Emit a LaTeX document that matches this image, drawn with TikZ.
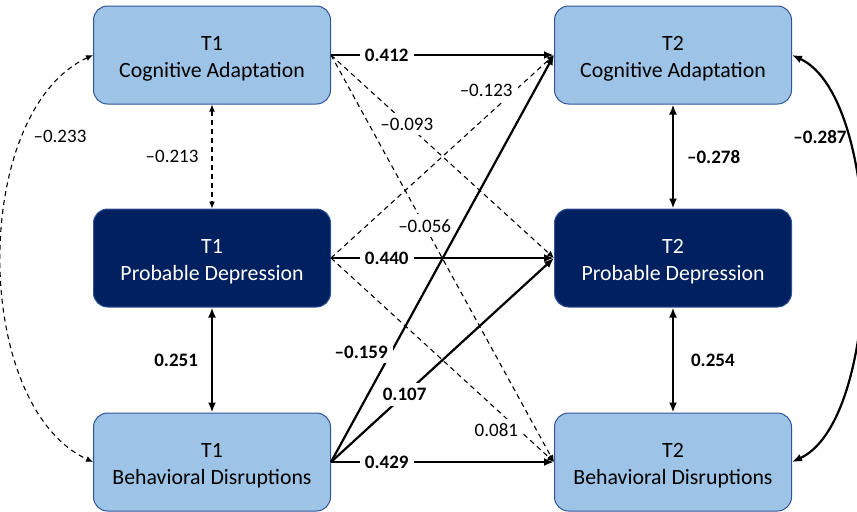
\documentclass[tikz,border=0pt]{standalone}
\usepackage{fontspec}
\setmainfont{Carlito}
\usetikzlibrary{positioning}
\usetikzlibrary{arrows.meta}
\definecolor{boxlight}{HTML}{9DC3E6}
\definecolor{boxdark}{HTML}{002060}
\definecolor{boxline}{HTML}{2F5597}
\newcommand{\varlabel}[2]{\rule{0pt}{11pt}#1\\#2}

\begin{document}
\begin{tikzpicture}[x=0.5pt,y=-0.5pt,
    varbox/.style={rounded corners=7pt, minimum width=118.5pt, minimum height=49pt, align=center, draw=boxline, line width=0.5pt, font=\fontsize{10.9}{13.5}\selectfont},
    lightbox/.style={varbox, fill=boxlight, text=black},
    darkbox/.style={varbox, fill=boxdark, text=white},
    sig/.style={line width=1.1pt, >={Latex[length=5pt,width=4pt]}},
    nsig/.style={line width=0.55pt, dash pattern=on 2.5pt off 2pt, >={Latex[length=3.5pt,width=3pt]}},
    coef/.style={fill=white, inner sep=2.5pt, font=\fontsize{9.5}{11}\selectfont},
    bcoef/.style={coef, font=\fontsize{9.5}{11}\selectfont\bfseries}]
    \useasboundingbox (0,0) rectangle (857,511);

    % T1 and T2 variables
    \node[lightbox] (t1ca) at (212,55) {\varlabel{T1}{Cognitive Adaptation}};
    \node[darkbox] (t1pd) at (212,258) {\varlabel{T1}{Probable Depression}};
    \node[lightbox] (t1bd) at (212,462) {\varlabel{T1}{Behavioral Disruptions}};
    \node[lightbox] (t2ca) at (673,55) {\varlabel{T2}{Cognitive Adaptation}};
    \node[darkbox] (t2pd) at (673,258) {\varlabel{T2}{Probable Depression}};
    \node[lightbox] (t2bd) at (673,462) {\varlabel{T2}{Behavioral Disruptions}};

    % non-significant cross-lagged paths
    \draw[nsig,->] (t1ca.east) -- (t2pd.west) node[coef,pos=0.34] {--0.093};
    \draw[nsig,->] (t1ca.east) -- (t2bd.west) node[coef,pos=0.42] {--0.056};
    \draw[nsig,->] (t1pd.east) -- (t2ca.west) node[coef,pos=0.79,xshift=-10.5pt,yshift=3.5pt] {--0.123};
    \draw[nsig,->] (t1pd.east) -- (t2bd.west) node[coef,pos=0.8,xshift=-6.5pt,yshift=-4.5pt] {0.081};

    % significant paths
    \draw[sig,->] (t1ca.east) -- (t2ca.west) node[bcoef,pos=0.25] {0.412};
    \draw[sig,->] (t1pd.east) -- (t2pd.west) node[bcoef,pos=0.25] {0.440};
    \draw[sig,->] (t1bd.east) -- (t2bd.west) node[bcoef,pos=0.25] {0.429};
    \draw[sig,->] (t1bd.east) -- (t2ca.west) node[bcoef,pos=0.27,xshift=-15pt] {--0.159};
    \draw[sig,->] (t1bd.east) -- (t2pd.west) node[bcoef,pos=0.33] {0.107};

    % correlations within waves
    \draw[nsig,<->] (t1ca) -- (t1pd) node[coef,midway,left=4pt] {--0.213};
    \draw[sig,<->] (t1pd) -- (t1bd) node[bcoef,midway,left=4pt] {0.251};
    \draw[sig,<->] (t2ca) -- (t2pd) node[bcoef,midway,right=4pt] {--0.278};
    \draw[sig,<->] (t2pd) -- (t2bd) node[bcoef,midway,right=6pt] {0.254};

    \draw[nsig,<->] (t1ca.west) to[out=205,in=155,looseness=0.85] (t1bd.west);
    \node[coef,fill=none] (r233) at (60,136) {--0.233};
    \draw[sig,<->] (t2ca.east) to[out=-25,in=25,looseness=0.65] (t2bd.east);
    \node[bcoef,fill=none] (r287) at (820,137) {--0.287};
\end{tikzpicture}
\end{document}
